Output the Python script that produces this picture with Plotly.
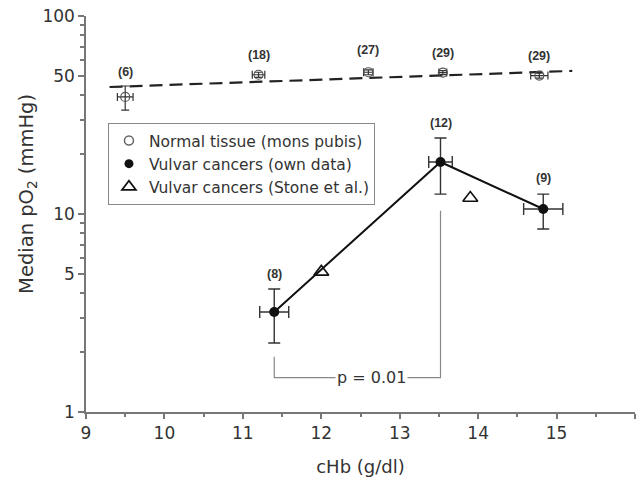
import math
import plotly.graph_objects as go

# Normal tissue (mons pubis)
norm_x = [9.5, 11.2, 12.6, 13.55, 14.78]
norm_y = [39, 50.5, 52, 51.8, 50]
norm_yerr_plus = [5.3, 1.5, 1.5, 1.2, 1.5]
norm_yerr_minus = [5.5, 1.5, 1.5, 1.2, 1.5]
norm_xerr = [0.1, 0.08, 0.06, 0.05, 0.11]
norm_n = ["(6)", "(18)", "(27)", "(29)", "(29)"]
norm_label_y = [52, 63.5, 67.3, 65, 62.8]

# Regression line for normal tissue
reg_x = [9.3, 15.2]
reg_y = [43.8, 52.8]

# Vulvar cancers (own data)
own_x = [11.4, 13.52, 14.83]
own_y = [3.2, 18.3, 10.6]
own_yerr_plus = [0.98, 5.9, 2.0]
own_yerr_minus = [0.97, 5.7, 2.2]
own_xerr = [0.185, 0.15, 0.25]
own_n = ["(8)", "(12)", "(9)"]
own_label_y = [5.0, 28.8, 15.2]

# Vulvar cancers (Stone et al.)
stone_x = [12.0, 13.9]
stone_y = [5.1, 12.05]

# p-value bracket
br_x = [11.4, 11.4, 13.52, 13.52]
br_y = [1.9, 1.49, 1.49, 10.4]
p_text = "p = 0.01"
p_x = 12.64
p_y = 1.49

x_ticks = [9, 10, 11, 12, 13, 14, 15, 16]
y_ticks = [1, 5, 10, 50, 100]
y_minor = [2, 3, 4, 6, 7, 8, 9, 20, 30, 40, 60, 70, 80, 90]
x_minor = [9.5, 10.5, 11.5, 12.5, 13.5, 14.5, 15.5]

FONT = "DejaVu Sans"
fig = go.Figure()

# bracket
fig.add_trace(go.Scatter(x=br_x, y=br_y, mode="lines",
                         line=dict(color="#888888", width=1.2),
                         showlegend=False, hoverinfo="skip"))

# regression dashed line
fig.add_trace(go.Scatter(x=reg_x, y=reg_y, mode="lines",
                         line=dict(color="#222222", width=2.2, dash="13px,7px"),
                         showlegend=False))

# normal tissue
fig.add_trace(go.Scatter(
    x=norm_x, y=norm_y, mode="markers",
    marker=dict(symbol="circle-open", size=9, color="#555555", line=dict(width=1.2)),
    error_y=dict(type="data", array=norm_yerr_plus, arrayminus=norm_yerr_minus,
                 color="#333333", thickness=1.2, width=4),
    error_x=dict(type="data", array=norm_xerr, color="#333333", thickness=1.2, width=4),
    showlegend=False))

# own data
fig.add_trace(go.Scatter(
    x=own_x, y=own_y, mode="lines+markers",
    line=dict(color="#111111", width=2),
    marker=dict(symbol="circle", size=10, color="#111111"),
    error_y=dict(type="data", array=own_yerr_plus, arrayminus=own_yerr_minus,
                 color="#333333", thickness=1.4, width=6),
    error_x=dict(type="data", array=own_xerr, color="#333333", thickness=1.4, width=6),
    showlegend=False))

# Stone et al.
fig.add_trace(go.Scatter(
    x=stone_x, y=stone_y, mode="markers",
    marker=dict(symbol="triangle-up-open", size=13, color="#111111", line=dict(width=1.6)),
    showlegend=False))

# legend entries
fig.add_trace(go.Scatter(x=[None], y=[None], mode="markers", name="Normal tissue (mons pubis)",
                         marker=dict(symbol="circle-open", size=9, color="#666666", line=dict(width=1.5))))
fig.add_trace(go.Scatter(x=[None], y=[None], mode="markers", name="Vulvar cancers (own data)",
                         marker=dict(symbol="circle", size=9, color="#111111")))
fig.add_trace(go.Scatter(x=[None], y=[None], mode="markers", name="Vulvar cancers (Stone et al.)",
                         marker=dict(symbol="triangle-up-open", size=12, color="#111111", line=dict(width=1.8))))

lab_font = dict(family="Liberation Sans", size=12.5, color="#333333")
annotations = []
for x, y, t in zip(norm_x + own_x, norm_label_y + own_label_y, norm_n + own_n):
    annotations.append(dict(x=x, y=math.log10(y), xref="x", yref="y", text="<b>" + t + "</b>",
                            showarrow=False, font=lab_font))
annotations.append(dict(x=p_x, y=math.log10(p_y), xref="x", yref="y", text=p_text,
                        showarrow=False, bgcolor="white", borderpad=1,
                        font=dict(family=FONT, size=16, color="#333333")))
# y-axis title
annotations.append(dict(x=-0.108, y=0.55, xref="paper", yref="paper",
                        text="Median pO<sub>2</sub> (mmHg)", textangle=-90,
                        showarrow=False, xanchor="center", yanchor="middle",
                        font=dict(family=FONT, size=19.5, color="#333333")))

fig.update_layout(
    width=640, height=479,
    margin=dict(l=86, r=5, t=16, b=67),
    paper_bgcolor="white", plot_bgcolor="white",
    font=dict(family=FONT, size=17, color="#333333"),
    showlegend=True,
    legend=dict(x=0.04, y=0.73, xanchor="left", yanchor="top",
                bordercolor="#888888", borderwidth=1, bgcolor="white",
                font=dict(family=FONT, size=15.5, color="#333333"),
                itemsizing="trace", tracegroupgap=0),
    annotations=annotations,
    xaxis=dict(range=[9, 16], tickvals=x_ticks, showgrid=False, zeroline=False,
               showline=True, linecolor="#777777", linewidth=1.5,
               ticks="outside", ticklen=5, tickcolor="#777777", tickwidth=1.5,
               minor=dict(tickvals=x_minor, ticks="outside", ticklen=3, tickcolor="#777777"),
               title=dict(text="cHb (g/dl)", font=dict(size=18), standoff=18),
               tickfont=dict(size=17)),
    yaxis=dict(type="log", range=[0, 2], tickvals=y_ticks, ticktext=[str(v) for v in y_ticks],
               showgrid=False, zeroline=False,
               showline=True, linecolor="#777777", linewidth=1.5,
               ticks="outside", ticklen=6, tickcolor="#777777", tickwidth=1.5,
               minor=dict(tickvals=y_minor, ticks="outside", ticklen=4, tickcolor="#777777"),
               tickfont=dict(size=17)),
)

fig.write_html("out.html")
